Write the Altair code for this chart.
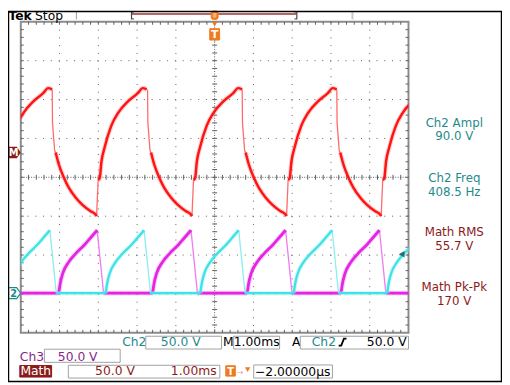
import altair as alt
import pandas as pd

# ---------------- values read from the screen ----------------
# 1.00 ms/div horizontally (trigger at centre), 50.0 V/div for every trace
VOLTS_PER_DIV = 50.0
PERIOD_MS = 2.448                 # 408.5 Hz
math_level = [0.64]               # divisions, "M" marker
ch_level = [-2.98]                # divisions, "2" marker (Ch2 / Ch3 ground)
trig_level_v = [50.0]             # Ch2 trigger level, volts

# Math (red): one period, offsets (ms) from each fall, volts about its marker
math_fall_t = [0.000, 0.008, 0.063, 0.089]
math_fall_v = [81.0, 38.0, 2.5, 0.0]
math_decay_t = [0.089, 0.178, 0.305, 0.431, 0.609, 0.774, 0.990, 1.117, 1.145]
math_decay_v = [0.0, -16.5, -32.9, -45.6, -58.2, -67.1, -75.6, -79.7, -81.9]
math_jump_t = [1.145, 1.185]
math_jump_v = [-81.9, -35.4]
math_rise_t = [1.185, 1.226, 1.269, 1.353, 1.523, 1.701, 1.954, 2.208, 2.335, 2.437]
math_rise_v = [-35.4, -32.9, -12.3, 6.7, 34.2, 51.0, 65.8, 76.3, 82.7, 81.0]
math_falls = [-6.63, -4.19, -1.73, 0.71, 3.15]

# Ch2 (cyan) / Ch3 (magenta): half-wave pulses, offsets (ms) from each start, volts
half_rise_t = [0.000, 0.038, 0.102, 0.254, 0.431, 0.660, 0.838, 0.990]
half_rise_v = [0.0, 12.7, 25.3, 39.9, 50.6, 62.0, 72.2, 81.0]
half_drop_t = [0.990, 1.155]
half_drop_v = [81.0, 0.0]
cyan_starts = [-5.24, -2.81, -0.37, 2.04, 4.45]
magenta_starts = [-6.47, -4.02, -1.60, 0.84, 3.26]

# graticule: 10 x 8 divisions, 5 minor ticks per division
major_x = [-4, -3, -2, -1, 1, 2, 3, 4]
major_y = [-3, -2, -1, 1, 2, 3]
minor_x = [round(-5 + 0.2 * i, 1) for i in range(1, 50)]
minor_y = [round(-4 + 0.2 * i, 1) for i in range(1, 40)]

# ---------------- styling ----------------
FONT = "DejaVu Sans"
TEAL = "#1f8a8a"
DKRED = "#8b1a1a"
PURPLE = "#8a1f8a"
ORANGE = "#f07a1e"
GRID = "#5f5f5f"
BOXC = "#a0a0a0"
W, H = 394, 316

xs = alt.Scale(domain=[-5, 5], nice=False, zero=False)
ys = alt.Scale(domain=[-4, 4], nice=False, zero=False)
one = pd.DataFrame({"k": [0]})


def build_math():
    segs = [("fall", 1, math_fall_t, math_fall_v), ("decay", 0, math_decay_t, math_decay_v),
            ("jump", 1, math_jump_t, math_jump_v), ("rise", 0, math_rise_t, math_rise_v)]
    rows = []
    for i, s in enumerate(math_falls):
        for name, fast, ts, vs in segs:
            for t, v in zip(ts, vs):
                rows.append({"t": s + t, "d": math_level[0] + v / VOLTS_PER_DIV,
                             "seg": f"{i}{name}", "fast": fast})
    return pd.DataFrame(rows)


def build_half(starts):
    rows = []
    for i, s in enumerate(starts):
        nxt = starts[i + 1] if i + 1 < len(starts) else s + PERIOD_MS
        segs = [("rise", 0, half_rise_t, half_rise_v), ("drop", 1, half_drop_t, half_drop_v),
                ("base", 0, [half_drop_t[-1], nxt - s], [0.0, 0.0])]
        for name, fast, ts, vs in segs:
            for t, v in zip(ts, vs):
                rows.append({"t": s + t, "d": ch_level[0] + v / VOLTS_PER_DIV,
                             "seg": f"{i}{name}", "fast": fast})
    return pd.DataFrame(rows)


def trace(df, color, glow, thin, width):
    enc = dict(x=alt.X("t:Q", scale=xs, axis=None), y=alt.Y("d:Q", scale=ys, axis=None),
               detail="seg:N", order="t:Q")
    base = alt.Chart(df)
    return [
        base.transform_filter("datum.fast == 0").mark_line(
            color=glow, strokeWidth=width + 2.2, opacity=0.4, clip=True,
            strokeJoin="round", interpolate="monotone").encode(**enc),
        base.transform_filter("datum.fast == 1").mark_line(
            color=thin, strokeWidth=1.3, clip=True).encode(**enc),
        base.transform_filter("datum.fast == 0").mark_line(
            color=color, strokeWidth=width, clip=True,
            strokeJoin="round", interpolate="monotone").encode(**enc),
    ]


def text(s, x, y, color="black", size=12.5, align="left", weight="normal", baseline="alphabetic"):
    return alt.Chart(one).mark_text(align=align, baseline=baseline, fontSize=size, font=FONT,
                                    fontWeight=weight, color=color).encode(
        x=alt.value(x), y=alt.value(y), text=alt.value(s))


def box(x1, x2, y1, y2, stroke=BOXC, fill="white", sw=1, **kw):
    return alt.Chart(one).mark_rect(fill=fill, stroke=stroke, strokeWidth=sw, **kw).encode(
        x=alt.value(x1), x2=alt.value(x2), y=alt.value(y1), y2=alt.value(y2))


def hline(x1, x2, y, color, sw=1):
    return alt.Chart(one).mark_rule(color=color, strokeWidth=sw).encode(
        x=alt.value(x1), x2=alt.value(x2), y=alt.value(y))


def vline(x, y1, y2, color, sw=1):
    return alt.Chart(one).mark_rule(color=color, strokeWidth=sw).encode(
        x=alt.value(x), y=alt.value(y1), y2=alt.value(y2))


layers = []

# ---- graticule ----
layers.append(alt.Chart(pd.DataFrame({"x": major_x})).mark_rule(
    color=GRID, strokeDash=[1, 6.9], strokeWidth=1).encode(x=alt.X("x:Q", scale=xs, axis=None)))
layers.append(alt.Chart(pd.DataFrame({"y": major_y})).mark_rule(
    color=GRID, strokeDash=[1, 6.88], strokeWidth=1).encode(y=alt.Y("y:Q", scale=ys, axis=None)))
layers.append(alt.Chart(pd.DataFrame({"x": [0]})).mark_rule(
    color=GRID, strokeDash=[1, 1.5], strokeWidth=1).encode(x=alt.X("x:Q", scale=xs, axis=None)))
layers.append(alt.Chart(pd.DataFrame({"y": [0]})).mark_rule(
    color=GRID, strokeDash=[1, 1.5], strokeWidth=1).encode(y=alt.Y("y:Q", scale=ys, axis=None)))
mx = alt.Chart(pd.DataFrame({"x": minor_x}))
my = alt.Chart(pd.DataFrame({"y": minor_y}))
for y1, y2 in [(H / 2 - 2.5, H / 2 + 2.5), (0, 3), (H - 3, H)]:
    layers.append(mx.mark_rule(color=GRID, strokeWidth=1).encode(
        x=alt.X("x:Q", scale=xs, axis=None), y=alt.value(y1), y2=alt.value(y2)))
for x1, x2 in [(W / 2 - 2.5, W / 2 + 2.5), (0, 3), (W - 3, W)]:
    layers.append(my.mark_rule(color=GRID, strokeWidth=1).encode(
        y=alt.Y("y:Q", scale=ys, axis=None), x=alt.value(x1), x2=alt.value(x2)))

# ---- traces ----
layers += trace(build_half(magenta_starts), "#e326e3", "#f08af0", "#f07af0", 2.8)
layers += trace(build_half(cyan_starts), "#3fe2e6", "#9cf0f2", "#8aeef0", 2.4)
layers += trace(build_math(), "#ff1414", "#ff8a8a", "#ff6a6a", 2.5)

# ---- trigger level arrow (Ch2, right edge) ----
layers.append(alt.Chart(pd.DataFrame({"v": trig_level_v})).transform_calculate(
    d=f"{ch_level[0]} + datum.v / {VOLTS_PER_DIV}").mark_point(
    shape="triangle-left", filled=True, color="#1d7373", size=45, opacity=1).encode(
    x=alt.value(387), y=alt.Y("d:Q", scale=ys, axis=None)))

# ---- left channel markers ----
PENT = "M-1,-0.92 L0.35,-0.92 L1,0 L0.35,0.92 L-1,0.92 Z"
layers.append(alt.Chart(pd.DataFrame({"d": math_level})).mark_point(
    shape=PENT, size=160, filled=True, color=DKRED, opacity=1).encode(
    x=alt.value(-6.3), y=alt.Y("d:Q", scale=ys, axis=None)))
layers.append(alt.Chart(pd.DataFrame({"d": math_level})).mark_text(
    text="M", color="white", font=FONT, fontSize=10, fontWeight="bold", baseline="middle",
    align="center", dy=0.5).encode(x=alt.value(-7.3), y=alt.Y("d:Q", scale=ys, axis=None)))
layers.append(alt.Chart(pd.DataFrame({"d": ch_level})).mark_point(
    shape=PENT, size=150, filled=True, fill="white", stroke=TEAL, strokeWidth=1.2, opacity=1).encode(
    x=alt.value(-6.3), y=alt.Y("d:Q", scale=ys, axis=None)))
layers.append(alt.Chart(pd.DataFrame({"d": ch_level})).mark_text(
    text="2", color=TEAL, font=FONT, fontSize=10, fontWeight="bold", baseline="middle",
    align="center", dy=0.5).encode(x=alt.value(-7.3), y=alt.Y("d:Q", scale=ys, axis=None)))

# ---- top status bar ----
layers += [
    text("Tek", -12.5, -1.5, "black", 12.5, weight="bold"),
    text("Stop", 14.5, -1.5, "black", 12.5),
    vline(56.5, -11, -2.5, "#9a9a9a"),
    hline(113, 280, -8, "#9c3434", 1.5),
    vline(112.5, -10.5, -2.5, "#444444", 1.2),
    hline(112.5, 115, -10, "#444444"),
    hline(112.5, 115, -3, "#444444"),
    vline(280.5, -10.5, -2.5, "#444444", 1.2),
    hline(278, 280.5, -10, "#444444"),
    hline(278, 280.5, -3, "#444444"),
    vline(337, -11, -2.5, "#c8c8c8", 2),
    box(193.5, 200.5, -11, -2.5, stroke=ORANGE, fill=ORANGE, cornerRadius=2),
    box(195.5, 198.5, -9, -4.5, stroke="#f6b070", fill="#f6b070", sw=0.5),
]
layers.append(alt.Chart(one).mark_point(shape="triangle-down", filled=True, color=ORANGE,
                                        size=28, opacity=1).encode(x=alt.value(197), y=alt.value(2.5)))
layers += [
    box(192, 202, 7, 18.5, stroke=ORANGE, fill=ORANGE),
    text("T", 197, 16.8, "white", 11, align="center", weight="bold"),
    vline(197, 18.5, 21, "#9a9a9a"),
]

# ---- measurement readouts ----
CX = 440.5
MS = 12
layers += [
    text("Ch2 Ampl", CX, 106.5, TEAL, MS, align="center"),
    text("90.0 V", CX, 120.5, TEAL, MS, align="center"),
    text("Ch2 Freq", CX, 163, TEAL, MS, align="center"),
    text("408.5 Hz", CX, 177, TEAL, MS, align="center"),
    text("Math RMS", CX, 218, DKRED, MS, align="center"),
    text("55.7 V", CX, 232, DKRED, MS, align="center"),
    text("Math Pk-Pk", CX, 274, DKRED, MS, align="center"),
    text("170 V", CX, 288, DKRED, MS, align="center"),
]

# ---- bottom settings rows ----
EDGE = "M-1,0.9 L-0.35,0.9 L0.35,-0.9 L1,-0.9"
layers += [
    # row 1
    text("Ch2", 103, 329.3, TEAL),
    box(127, 204, 319.5, 332.5),
    text("50.0 V", 162.5, 329.3, TEAL, align="center"),
    text("M", 205.5, 329.3, "black"),
    box(216.3, 263, 319.5, 332.5),
    text("1.00ms", 239.7, 329.3, "black", align="center"),
    text("A", 275.7, 329.3, "black"),
    box(284, 394, 319.5, 332.5),
    text("Ch2", 295.7, 329.3, TEAL),
    text("50.0 V", 392, 329.3, "black", align="right"),
    # row 2
    text("Ch3", -1, 344.3, PURPLE),
    box(24, 101, 332.7, 346),
    text("50.0 V", 57.8, 344.3, PURPLE, align="center"),
    # row 3
    box(-1, 31.3, 349.3, 361, stroke=DKRED, fill=DKRED),
    text("Math", 15.2, 359.3, "white", align="center"),
    box(48.3, 202.3, 349, 362),
    text("50.0 V", 95.7, 359.3, DKRED, align="center"),
    text("1.00ms", 199, 359.3, DKRED, align="right"),
    box(208.3, 218, 349.5, 360, stroke=ORANGE, fill=ORANGE),
    text("T", 213.2, 358.5, "white", 10, align="center", weight="bold"),
    text("→", 219.5, 358.5, "#f49a9a", 8),
    box(236.7, 316.7, 348.7, 362),
    text("−2.00000µs", 238, 359.7, "black"),
]
layers.append(alt.Chart(one).mark_point(shape=EDGE, filled=False, stroke="black", strokeWidth=1.8,
                                        size=64, opacity=1).encode(x=alt.value(327), y=alt.value(325.5)))
layers.append(alt.Chart(one).mark_point(shape="triangle-down", filled=True, color=ORANGE,
                                        size=30, opacity=1).encode(x=alt.value(230.5), y=alt.value(353.5)))

# ---- outer frame ----
layers.append(box(-12.5, 488.5, -10.5, 365.5, stroke="black", fill="white", sw=1.5, fillOpacity=0))

chart = alt.layer(*layers).properties(
    width=W, height=H,
    padding={"left": 13, "top": 11, "right": 95, "bottom": 50},
    autosize=alt.AutoSizeParams(type="none"),
    background="white",
).configure_view(stroke="#8c8c8c", strokeWidth=2)

chart.save("out.html", embed_options={"renderer": "svg", "actions": False})
